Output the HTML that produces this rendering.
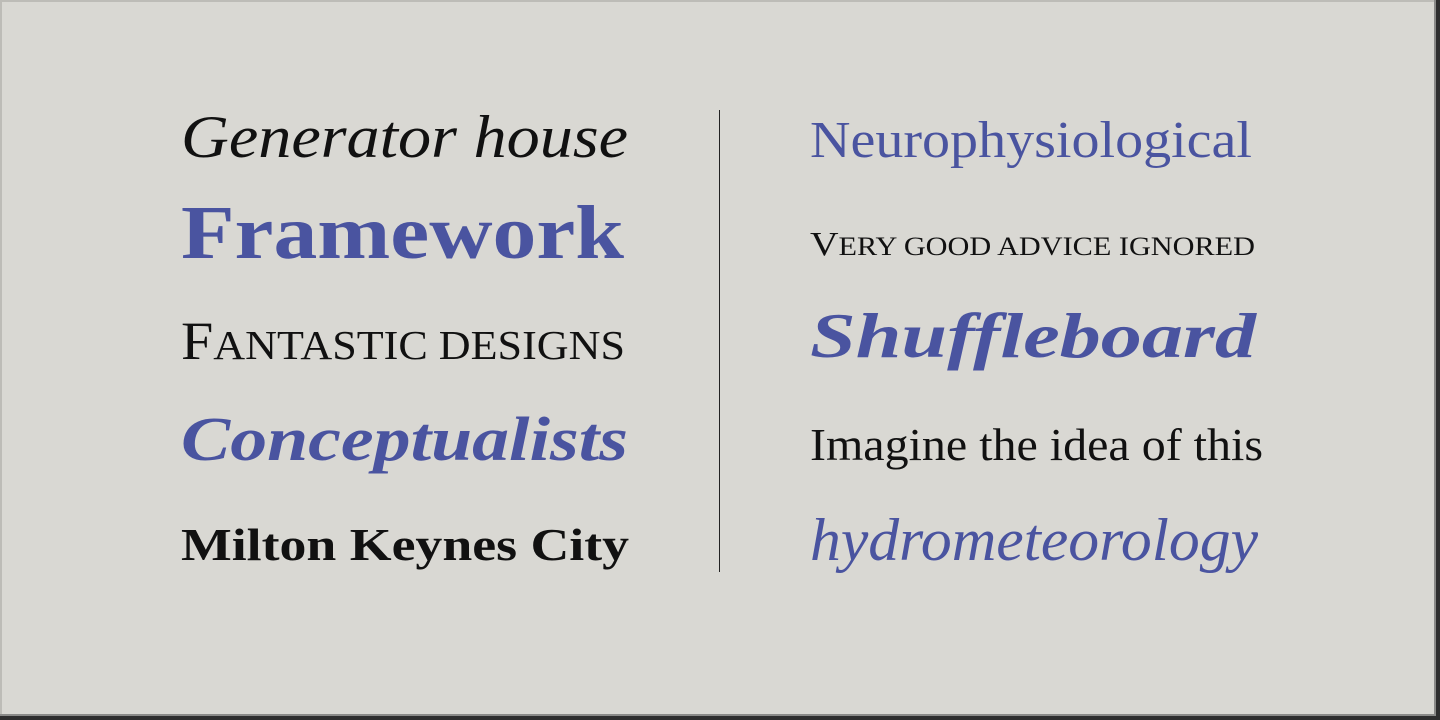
<!DOCTYPE html>
<html><head><meta charset="utf-8">
<style>
html,body{margin:0;padding:0;width:1440px;height:720px;overflow:hidden;background:#d9d8d3;}
svg{display:block}
text{font-family:"Liberation Serif",serif;}
</style></head>
<body>
<svg width="1440" height="720" viewBox="0 0 1440 720">
  <rect x="0" y="0" width="1440" height="720" fill="#d9d8d3"/>
  <rect x="0" y="0" width="1440" height="2" fill="#bdbcb7"/>
  <rect x="0" y="0" width="2" height="720" fill="#bdbcb7"/>
  <rect x="0" y="714" width="1440" height="2" fill="#8a8a88"/>
  <rect x="1434" y="0" width="2" height="716" fill="#8a8a88"/>
  <rect x="0" y="716" width="1440" height="4" fill="#2e2e2e"/>
  <rect x="1436" y="0" width="4" height="720" fill="#2e2e2e"/>
  <line x1="719.5" y1="110" x2="719.5" y2="572" stroke="#222" stroke-width="1"/>

  <text x="181" y="157" font-size="60" font-style="italic" fill="#111" textLength="447" lengthAdjust="spacingAndGlyphs">Generator house</text>
  <text x="181" y="258" font-size="76" font-weight="bold" fill="#4a54a0" textLength="443" lengthAdjust="spacingAndGlyphs">Framework</text>
  <text x="181" y="359" font-size="54" fill="#111" textLength="444" lengthAdjust="spacingAndGlyphs">F<tspan font-size="41">ANTASTIC DESIGNS</tspan></text>
  <text x="181" y="460" font-size="62" font-weight="bold" font-style="italic" fill="#4a54a0" textLength="447" lengthAdjust="spacingAndGlyphs">Conceptualists</text>
  <text x="181" y="560" font-size="46" font-weight="bold" fill="#111" textLength="448" lengthAdjust="spacingAndGlyphs">Milton Keynes City</text>

  <text x="810" y="157" font-size="52" fill="#4a54a0" textLength="442" lengthAdjust="spacingAndGlyphs">Neurophysiological</text>
  <text x="810" y="255" font-size="34" fill="#111" textLength="445" lengthAdjust="spacingAndGlyphs">V<tspan font-size="26">ERY GOOD ADVICE IGNORED</tspan></text>
  <text x="810" y="357" font-size="64" font-weight="bold" font-style="italic" fill="#4a54a0" textLength="446" lengthAdjust="spacingAndGlyphs">Shuffleboard</text>
  <text x="810" y="460" font-size="46" fill="#111" textLength="453" lengthAdjust="spacingAndGlyphs">Imagine the idea of this</text>
  <text x="810" y="560" font-size="60" font-style="italic" fill="#4a54a0" textLength="448" lengthAdjust="spacingAndGlyphs">hydrometeorology</text>
</svg>
</body></html>
